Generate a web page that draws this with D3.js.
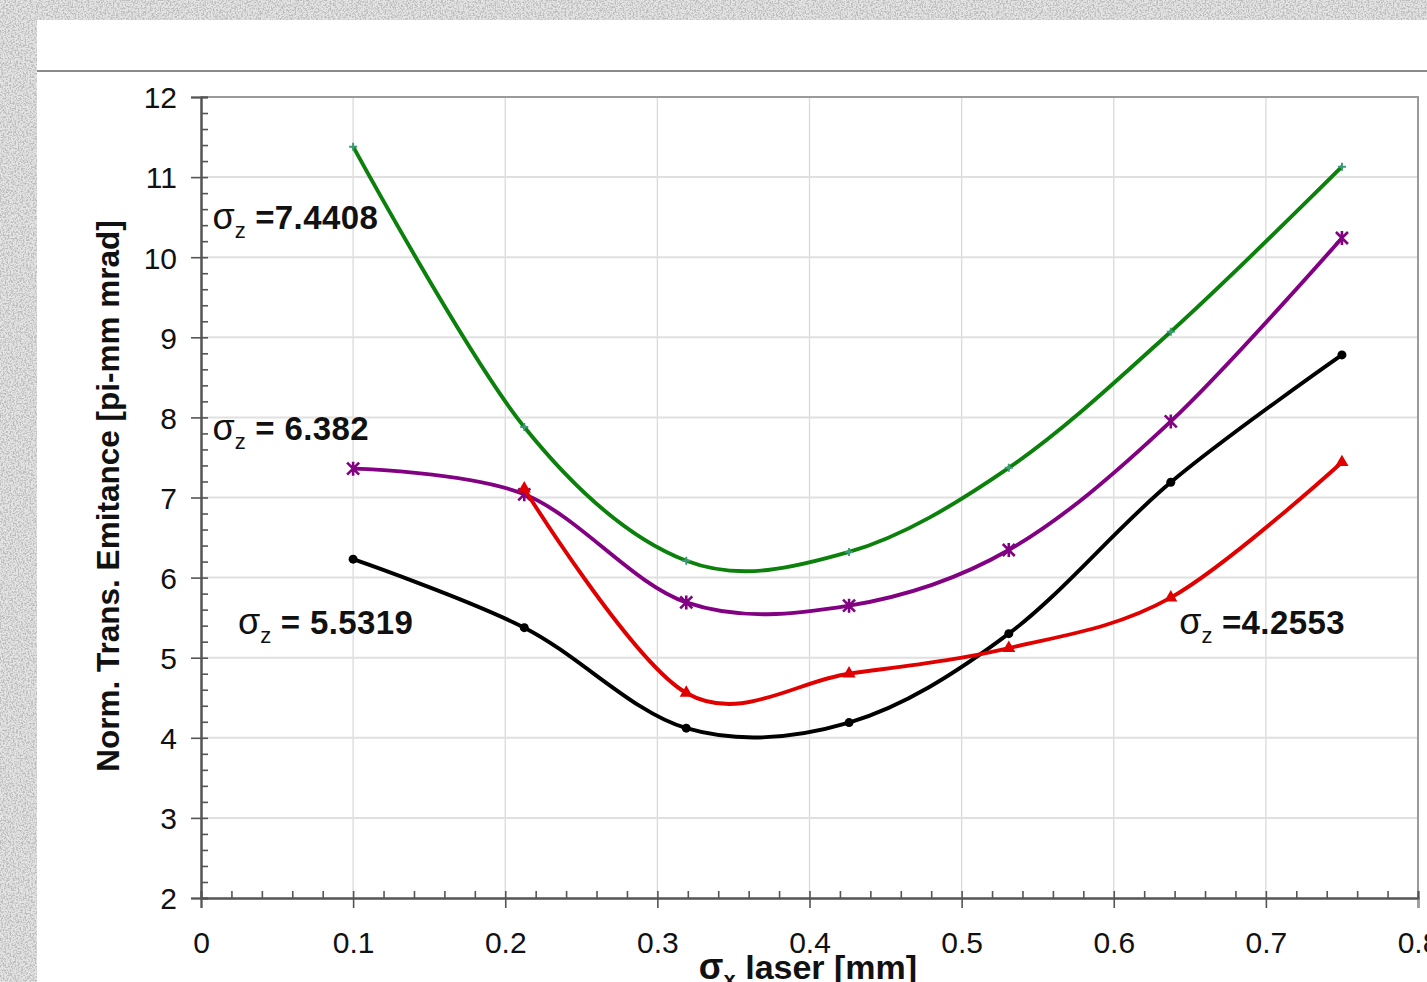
<!DOCTYPE html>
<html>
<head>
<meta charset="utf-8">
<script src="https://cdn.jsdelivr.net/npm/d3@7"></script>
<style>
  body { margin: 0; overflow: hidden; background: #dcdcdc; }
  svg { display: block; font-family: Arial, "Liberation Sans", sans-serif; }
</style>
</head>
<body>
<div id="chart"></div>
<script>
// page size
const width = 1427;
const height = 982;

// data
const sigmaX = [0.1, 0.2125, 0.319, 0.426, 0.531, 0.6375, 0.75];
const emitGreen  = [11.38, 7.88, 6.21, 6.32, 7.37, 9.07, 11.13];   // sigma_z = 7.4408
const emitPurple = [7.36, 7.04, 5.69, 5.65, 6.345, 7.95, 10.24];   // sigma_z = 6.382
const emitBlack  = [6.23, 5.375, 4.12, 4.19, 5.30, 7.19, 8.78];    // sigma_z = 5.5319
const emitRed    = [null, 7.11, 4.56, 4.80, 5.12, 5.75, 7.44];     // sigma_z = 4.2553

const xTicks = [0, 0.1, 0.2, 0.3, 0.4, 0.5, 0.6, 0.7, 0.8];
const yTicks = [2, 3, 4, 5, 6, 7, 8, 9, 10, 11, 12];
const xMinor = d3.range(0, 0.8001, 0.02);
const yMinor = d3.range(2, 12.001, 0.2);

const labels = [
    { name: "7.4408", sep: " =", x: 0.0075, y: 10.35 },
    { name: "6.382", sep: " = ", x: 0.0075, y: 7.72 },
    { name: "5.5319", sep: " = ", x: 0.0243, y: 5.30 },
    { name: "4.2553", sep: " =", x: 0.643, y: 5.30 }
];

const svg = d3.select("#chart").append("svg")
    .attr("width", width)
    .attr("height", height);

// textured grey backdrop
const defs = svg.append("defs");
const f = defs.append("filter").attr("id", "noise")
    .attr("x", 0).attr("y", 0).attr("width", "100%").attr("height", "100%");
f.append("feTurbulence").attr("type", "fractalNoise")
    .attr("baseFrequency", 0.6).attr("numOctaves", 3).attr("seed", 4);
f.append("feColorMatrix").attr("type", "matrix")
    .attr("values", "0 0 0 0 0.5  0 0 0 0 0.5  0 0 0 0 0.5  4 0 0 0 -1.7");

svg.append("rect").attr("width", width).attr("height", height).attr("fill", "#e4e4e4");
svg.append("rect").attr("width", width).attr("height", height).attr("filter", "url(#noise)");

// white panel
svg.append("rect")
    .attr("x", 37).attr("y", 20)
    .attr("width", width - 37).attr("height", height - 20)
    .attr("fill", "#ffffff");
svg.append("line")
    .attr("x1", 37).attr("x2", width)
    .attr("y1", 71).attr("y2", 71)
    .attr("stroke", "#8a8a8a").attr("stroke-width", 2);

const x = d3.scaleLinear().domain([0, 0.8]).range([201, 1418]);
const y = d3.scaleLinear().domain([2, 12]).range([898, 97]);

// grid
svg.append("g").selectAll("line")
    .data(xTicks.slice(1, -1))
    .join("line")
    .attr("x1", d => x(d)).attr("x2", d => x(d))
    .attr("y1", y(12)).attr("y2", y(2))
    .attr("stroke", "#dadada").attr("stroke-width", 1.3);
svg.append("g").selectAll("line")
    .data(yTicks.slice(1, -1))
    .join("line")
    .attr("x1", x(0)).attr("x2", x(0.8))
    .attr("y1", d => y(d)).attr("y2", d => y(d))
    .attr("stroke", "#e0e0e0").attr("stroke-width", 2);

// frame top/right
svg.append("path")
    .attr("d", `M${x(0)},${y(12)}H${x(0.8)}V${y(2)}`)
    .attr("fill", "none").attr("stroke", "#9a9a9a").attr("stroke-width", 2);

// axes
const axisColor = "#555";
const yAxis = svg.append("g").attr("transform", `translate(${x(0)},0)`)
    .call(d3.axisLeft(y).tickValues(yTicks).tickSize(10).tickPadding(14).tickFormat(d3.format("d")));
const yAxisMinor = svg.append("g").attr("transform", `translate(${x(0)},0)`)
    .call(d3.axisLeft(y).tickValues(yMinor).tickSize(-7).tickFormat(""));
const xAxis = svg.append("g").attr("transform", `translate(0,${y(2)})`)
    .call(d3.axisBottom(x).tickValues(xTicks).tickSize(10).tickPadding(24).tickFormat(d => d === 0 ? "0" : d3.format(".1f")(d)));
const xAxisMinor = svg.append("g").attr("transform", `translate(0,${y(2)})`)
    .call(d3.axisBottom(x).tickValues(xMinor).tickSize(-7).tickFormat(""));

[yAxis, yAxisMinor, xAxis, xAxisMinor].forEach(g => {
    g.select(".domain").attr("stroke", axisColor).attr("stroke-width", 2);
    g.selectAll(".tick line").attr("stroke", axisColor).attr("stroke-width", 1.6);
    g.selectAll(".tick text").attr("fill", "#111").attr("font-size", 30);
});
yAxis.selectAll(".tick text").attr("dy", "0.36em");
xAxis.select(".tick:last-of-type line").attr("stroke", "#9a9a9a");

// series
const series = [
    { values: emitGreen,  color: "#0b800b", marker: "plus" },
    { values: emitPurple, color: "#820082", marker: "star" },
    { values: emitBlack,  color: "#000000", marker: "dot" },
    { values: emitRed,    color: "#e00000", marker: "tri" }
];

const line = d3.line()
    .defined(d => d[1] != null)
    .x(d => x(d[0]))
    .y(d => y(d[1]))
    .curve(d3.curveCatmullRom.alpha(0));

series.forEach(s => {
    const pts = sigmaX.map((v, i) => [v, s.values[i]]);
    svg.append("path")
        .datum(pts)
        .attr("d", line)
        .attr("fill", "none")
        .attr("stroke", s.color)
        .attr("stroke-width", 3.9)
        .attr("stroke-linejoin", "round");

    const mk = svg.append("g").selectAll("g")
        .data(pts.filter(d => d[1] != null))
        .join("g")
        .attr("transform", d => `translate(${x(d[0])},${y(d[1])})`);

    if (s.marker === "plus") {
        mk.append("path").attr("d", "M-4,0H4M0,-4V4")
            .attr("stroke", "#3c9a78").attr("stroke-width", 2);
    } else if (s.marker === "star") {
        mk.append("path").attr("d", "M-6,-6L6,6M-6,6L6,-6M0,-7V7")
            .attr("stroke", s.color).attr("stroke-width", 2.6);
    } else if (s.marker === "dot") {
        mk.append("circle").attr("r", 4.5).attr("fill", s.color);
    } else {
        mk.append("path").attr("d", d3.symbol(d3.symbolTriangle, 75))
            .attr("fill", s.color);
    }
});

// sigma_z annotations
labels.forEach(l => {
    const t = svg.append("text")
        .attr("x", x(l.x)).attr("y", y(l.y))
        .attr("fill", "#111")
        .attr("font-size", 33);
    t.append("tspan").attr("font-size", 36).text("σ");
    t.append("tspan").attr("font-size", 22).attr("dy", 9).text("z");
    t.append("tspan").attr("dy", -9).attr("font-weight", "bold")
        .attr("letter-spacing", 0.4)
        .text(l.sep + l.name);
});

// axis titles
svg.append("text")
    .attr("transform", `translate(119,${(220 + 772) / 2}) rotate(-90)`)
    .attr("text-anchor", "middle")
    .attr("font-size", 31.5)
    .attr("font-weight", "bold")
    .attr("fill", "#111")
    .text("Norm. Trans. Emitance [pi-mm mrad]");

const xt = svg.append("text")
    .attr("x", 808).attr("y", 979)
    .attr("text-anchor", "middle")
    .attr("font-size", 34)
    .attr("font-weight", "bold")
    .attr("fill", "#111");
xt.append("tspan").attr("font-size", 36).text("σ");
xt.append("tspan").attr("font-size", 22).attr("dy", 8).text("x");
xt.append("tspan").attr("dy", -8).text(" laser [mm]");
</script>
</body>
</html>
